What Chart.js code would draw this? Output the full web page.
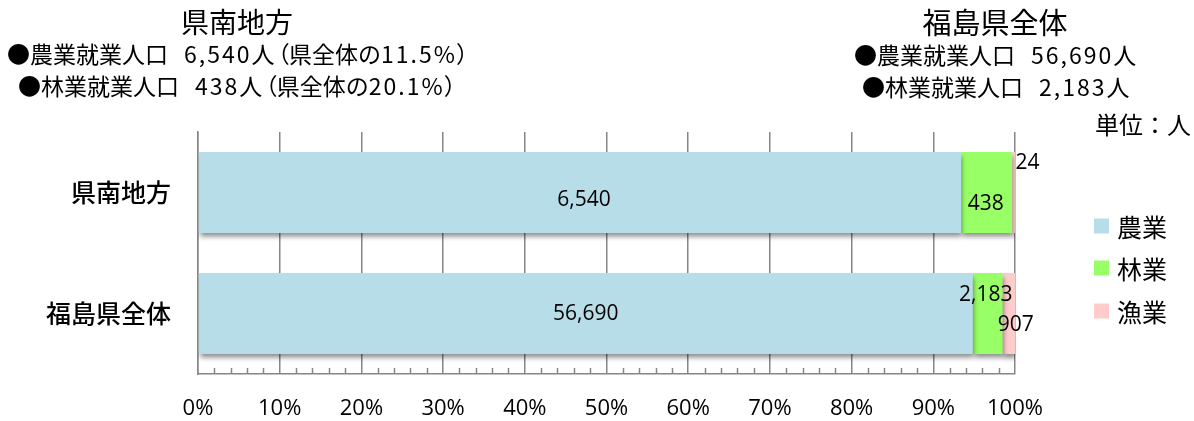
<!DOCTYPE html>
<html lang="ja">
<head>
<meta charset="utf-8">
<title>県南地方の農林漁業就業人口</title>
<script src="https://cdn.jsdelivr.net/npm/chart.js@4"></script>
<style>
  html, body { margin: 0; padding: 0; background: #fff; }
  #wrap { position: relative; width: 1194px; height: 421px; font-family: "Noto Sans CJK JP", sans-serif; color: #000; }
  #wrap canvas { position: absolute; left: 0; top: 0; }
  .t { position: absolute; white-space: nowrap; line-height: 1; transform: translateY(-50%); }
  .c { transform: translate(-50%, -50%); }
  .line { font-size: 23px; }
  .line .num { letter-spacing: 2px; margin-left: 16px; }
  .line .num.in { margin-left: 0; }
  .line .p { font-feature-settings: "palt"; }
  .line .p.open { margin-left: 3px; }
  .lg { position: absolute; left: 1094px; display: flex; align-items: center; font-size: 25px; line-height: 1; transform: translateY(-50%); white-space: nowrap; }
  .lg i { display: inline-block; width: 15px; height: 15px; margin-right: 8px; }
</style>
</head>
<body>
<div id="wrap">
  <canvas id="chart" width="1194" height="421"></canvas>
  <div class="t c" id="titleL" style="left:237px;top:21px;font-size:28px;"></div>
  <div class="t line" id="l1" style="left:7px;top:53px;"></div>
  <div class="t line" id="l2" style="left:18px;top:85px;"></div>
  <div class="t c" id="titleR" style="left:995px;top:21px;font-size:29px;"></div>
  <div class="t line" id="r1" style="left:854px;top:54px;"></div>
  <div class="t line" id="r2" style="left:862px;top:86px;"></div>
  <div class="t" id="unit" style="left:1095px;top:124px;font-size:24px;"></div>
  <div id="legend"></div>
</div>
<script>
// Regions and employed population by industry (persons)
const categories = ['県南地方', '福島県全体'];
const seriesNames = ['農業', '林業', '漁業'];
const agriculture = [6540, 56690];
const forestry = [438, 2183];
const fishery = [24, 907];
const tickLabels = ['0%', '10%', '20%', '30%', '40%', '50%', '60%', '70%', '80%', '90%', '100%'];
const unitLabel = '単位：人';

const colors = ['#b7dde8', '#99ff66', '#ffcccc'];
// label nudges (px) per series and category
const labelNudge = [
  [[4, 8], [0, 1]],
  [[-1, 12], [-2, -18]],
  [[14, -29], [7, 12]]
];

const counts = [agriculture, forestry, fishery];
const totals = agriculture.map((v, i) => v + forestry[i] + fishery[i]);
const share = arr => arr.map((v, i) => v / totals[i] * 100);
const fmt = n => n.toLocaleString('en-US');

// header block: "●○○就業人口 N人（県全体のP%）"
const pref = categories.length - 1;
function span(text, cls) {
  const s = document.createElement('span');
  if (cls) s.className = cls;
  s.textContent = text;
  return s;
}
function headerLine(id, series, idx, withShare) {
  const el = document.getElementById(id);
  const vals = counts[series];
  el.appendChild(span('●' + seriesNames[series] + '就業人口'));
  el.appendChild(span(fmt(vals[idx]), 'num'));
  el.appendChild(span('人'));
  if (withShare) {
    el.appendChild(span('（', 'p open'));
    el.appendChild(span('県全体の'));
    el.appendChild(span((vals[idx] / vals[pref] * 100).toFixed(1) + '%', 'num in'));
    el.appendChild(span('）', 'p'));
  }
}
document.getElementById('titleL').textContent = categories[0];
document.getElementById('titleR').textContent = categories[pref];
headerLine('l1', 0, 0, true);
headerLine('l2', 1, 0, true);
headerLine('r1', 0, pref, false);
headerLine('r2', 1, pref, false);
document.getElementById('unit').textContent = unitLabel;

// legend
const legendTops = [226, 268, 311];
const legendEl = document.getElementById('legend');
seriesNames.forEach((name, i) => {
  const d = document.createElement('div');
  d.className = 'lg';
  d.style.top = legendTops[i] + 'px';
  const sw = document.createElement('i');
  sw.style.background = colors[i];
  d.appendChild(sw);
  d.appendChild(document.createTextNode(name));
  legendEl.appendChild(d);
});

// soft drop shadow beneath the bars
const barShadow = {
  id: 'barShadow',
  beforeDatasetDraw(chart) {
    const ctx = chart.ctx;
    ctx.save();
    ctx.shadowColor = 'rgba(0,0,0,0.45)';
    ctx.shadowBlur = 5;
    ctx.shadowOffsetX = 1;
    ctx.shadowOffsetY = 4;
  },
  afterDatasetDraw(chart) {
    chart.ctx.restore();
  }
};

// minor tick marks every 2% along the bottom axis
const minorTicks = {
  id: 'minorTicks',
  afterDraw(chart) {
    const x = chart.scales.x;
    const ctx = chart.ctx;
    const bottom = chart.chartArea.bottom;
    ctx.save();
    ctx.strokeStyle = '#868686';
    ctx.lineWidth = 1.5;
    for (let v = 0; v <= 100; v += 2) {
      if (v % 10 === 0) continue;
      const px = Math.round(x.getPixelForValue(v)) + 0.5;
      ctx.beginPath();
      ctx.moveTo(px, bottom - 6);
      ctx.lineTo(px, bottom);
      ctx.stroke();
    }
    ctx.restore();
  }
};

// value labels on each segment
const valueLabels = {
  id: 'valueLabels',
  afterDatasetsDraw(chart) {
    const ctx = chart.ctx;
    ctx.save();
    ctx.font = '21px "Open Sans", sans-serif';
    ctx.fillStyle = '#000';
    ctx.textAlign = 'center';
    ctx.textBaseline = 'middle';
    chart.data.datasets.forEach((ds, di) => {
      chart.getDatasetMeta(di).data.forEach((bar, i) => {
        const cx = (bar.x + bar.base) / 2 + labelNudge[di][i][0];
        const cy = bar.y + labelNudge[di][i][1];
        ctx.fillText(fmt(counts[di][i]), cx, cy);
      });
    });
    ctx.restore();
  }
};

new Chart(document.getElementById('chart'), {
  type: 'bar',
  data: {
    labels: categories,
    datasets: seriesNames.map((name, i) => ({
      label: name,
      data: share(counts[i]),
      backgroundColor: colors[i],
      borderWidth: 0,
      categoryPercentage: 1,
      barPercentage: 0.67
    }))
  },
  options: {
    indexAxis: 'y',
    responsive: false,
    animation: false,
    layout: { padding: { top: 132, right: 179, left: 0, bottom: 0 } },
    plugins: { legend: { display: false }, tooltip: { enabled: false } },
    scales: {
      x: {
        stacked: true,
        min: 0,
        max: 100,
        ticks: {
          stepSize: 10,
          callback: (v, i) => tickLabels[i],
          font: { family: 'Open Sans', size: 22 },
          color: '#000',
          padding: 22,
          maxRotation: 0
        },
        grid: { color: '#868686', lineWidth: 1.5, drawTicks: false },
        border: { display: true, color: '#868686', width: 1.5 },
        afterFit: s => { s.height = 47; }
      },
      y: {
        stacked: true,
        ticks: {
          font: { family: 'Noto Sans CJK JP', size: 25, weight: '500' },
          color: '#000',
          padding: 27
        },
        grid: { display: false, drawTicks: false },
        border: { display: true, color: '#868686', width: 1.5 },
        afterFit: s => { s.width = 198; }
      }
    }
  },
  plugins: [barShadow, minorTicks, valueLabels]
});
</script>
</body>
</html>
